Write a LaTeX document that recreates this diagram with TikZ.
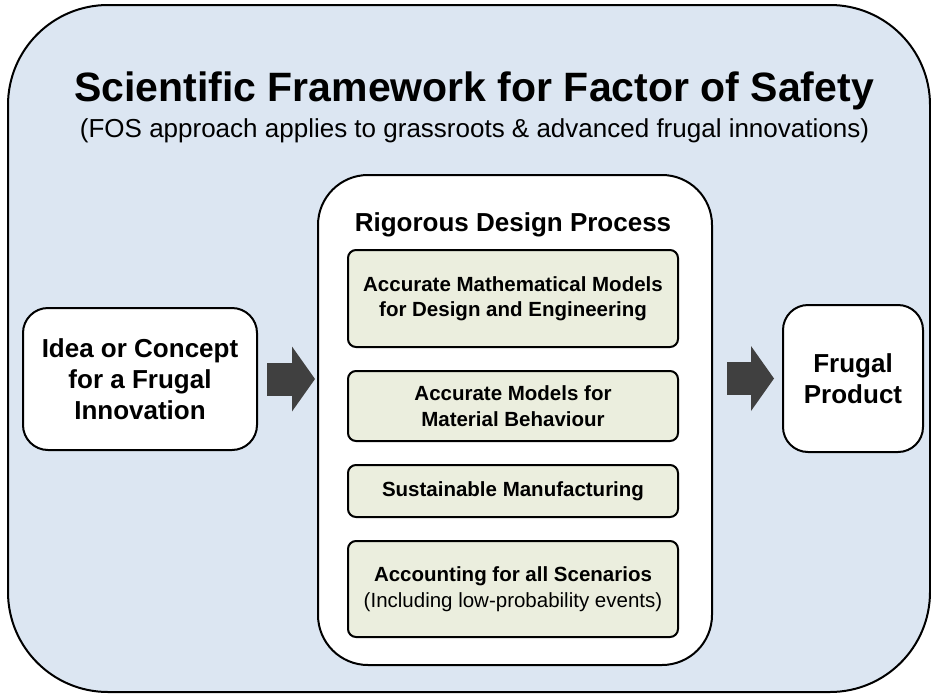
\documentclass[tikz,border=0pt]{standalone}
\usepackage{fontspec}
\setmainfont{Liberation Sans}
\usepackage{tikz}
\usetikzlibrary{arrows.meta}
\usetikzlibrary{positioning}

\definecolor{framebg}{RGB}{220,230,242}
\definecolor{modelbg}{RGB}{235,238,222}
\definecolor{arrowgray}{RGB}{64,64,64}

\begin{document}
\begin{tikzpicture}[x=1pt, y=-1pt, node distance=24pt,
    sidebox/.style={rectangle, draw, fill=white, line width=2pt, rounded corners=25pt, outer sep=0pt, align=center, font=\fontsize{26}{31}\selectfont\bfseries},
    modelbox/.style={rectangle, draw, fill=modelbg, line width=2pt, rounded corners=8pt, outer sep=0pt, minimum width=330pt, align=center, font=\fontsize{20.5}{25.5}\selectfont\bfseries},
    bigarrow/.style={draw=arrowgray, line width=33pt, -{Triangle[length=23pt 0 0, width=65pt 0 0, line width=0pt]}}]
            \useasboundingbox (0,0) rectangle (931,696);
            % Define blocks
            \node [rectangle, draw, fill=framebg, line width=2pt, rounded corners=100pt, minimum width=922pt, minimum height=687pt] (frame) at (469,348.5) {};
            \node [anchor=base, font=\fontsize{41}{49}\selectfont\bfseries] (title) at (474,101) {Scientific Framework for Factor of Safety};
            \node [anchor=base, font=\fontsize{26}{31}\selectfont] (subtitle) at (474.5,137) {(FOS approach applies to grassroots \& advanced frugal innovations)};

            \node [sidebox, minimum width=234pt, minimum height=142pt] (idea) at (140,379) {Idea or Concept\\for a Frugal\\Innovation};
            \node [sidebox, rounded corners=50pt, minimum width=394pt, minimum height=490pt] (design) at (515,420) {};
            \node [sidebox, draw=none, fill=none] (designtitle) at (513,225) {Rigorous Design Process};
            \node [sidebox, minimum width=140pt, minimum height=147pt] (product) at (853,378.5) {Frugal\\Product};

            \node [modelbox, minimum height=97pt] (maths) at (513,298.5) {Accurate Mathematical Models\\for Design and Engineering};
            \node [modelbox, minimum height=70pt, below=of maths] (material) {Accurate Models for\\Material Behaviour};
            \node [modelbox, minimum height=52pt, below=of material] (manuf) {Sustainable Manufacturing};
            \node [modelbox, minimum height=96pt, below=of manuf] (scenarios) {Accounting for all Scenarios\\{\mdseries (Including low-probability events)}};

            % Define arrows
            \draw [bigarrow, shorten <=10pt, shorten >=3pt] (idea.east) -- (idea.east -| design.west);
            \draw [bigarrow, shorten <=15pt, shorten >=9pt] (design.east |- product.west) -- (product.west);
        \end{tikzpicture}
\end{document}
